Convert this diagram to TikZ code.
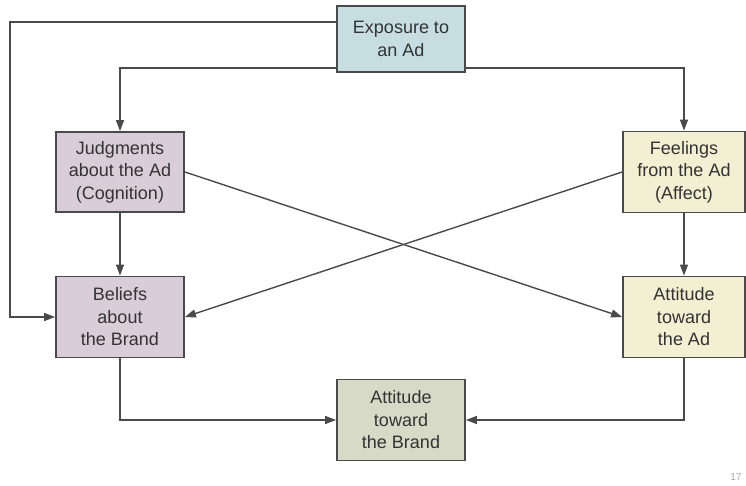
\documentclass[tikz,border=0pt]{standalone}
\usepackage{fontspec}
\setmainfont{Liberation Sans}
\usetikzlibrary{arrows.meta}
\definecolor{adblue}{HTML}{C6DDE1}
\definecolor{cogmauve}{HTML}{D9CDD8}
\definecolor{affyellow}{HTML}{F3EFD2}
\definecolor{brandolive}{HTML}{D6DAC6}
\definecolor{edgegray}{HTML}{4A4A4A}
\tikzset{
    box/.style={draw=edgegray, line width=1.8pt, align=center, inner sep=0pt,
        font=\fontsize{18}{22.5}\selectfont, text=black!80},
    link/.style={draw=edgegray, line width=1.4pt, -{Triangle[length=11pt, width=8pt]}},
}
\begin{document}
\begin{tikzpicture}[x=1pt, y=1pt]
    \useasboundingbox (0, 0) rectangle (746, 486);
    % boxes
    \node[box, fill=adblue, minimum width=128pt, minimum height=66pt] (expo) at (401, 447) {Exposure to\\an Ad};
    \node[box, fill=cogmauve, minimum width=128pt, minimum height=80pt] (judg) at (120, 314) {Judgments\\about the Ad\\(Cognition)};
    \node[box, fill=affyellow, minimum width=122pt, minimum height=81pt] (feel) at (684, 314) {Feelings\\from the Ad\\(Affect)};
    \node[box, fill=cogmauve, minimum width=128pt, minimum height=81pt] (beli) at (120, 169) {Beliefs\\about\\the Brand};
    \node[box, fill=affyellow, minimum width=122pt, minimum height=81pt] (atad) at (684, 169) {Attitude\\toward\\the Ad};
    \node[box, fill=brandolive, minimum width=128pt, minimum height=81pt] (atbr) at (401, 66) {Attitude\\toward\\the Brand};
    % exposure paths
    \draw[link] ([yshift=17pt]expo.west) -| (10, 300) |- (beli.west);
    \draw[link] ([yshift=-29pt]expo.west) -| (judg.north);
    \draw[link] ([yshift=-29pt]expo.east) -| (feel.north);
    % straight down
    \draw[link] (judg) -- (beli);
    \draw[link] (feel) -- (atad);
    % crossing arrows
    \draw[link] (judg.east) -- (atad.west);
    \draw[link] (feel.west) -- (beli.west -| beli.east);
    % into the brand attitude
    \draw[link] (beli.south) |- (atbr.west);
    \draw[link] (atad.south) |- (atbr.east);
    % slide number
    \node[anchor=east, font=\fontsize{10}{12}\selectfont, text=black!35] (page) at (745, 9) {17};
\end{tikzpicture}
\end{document}
